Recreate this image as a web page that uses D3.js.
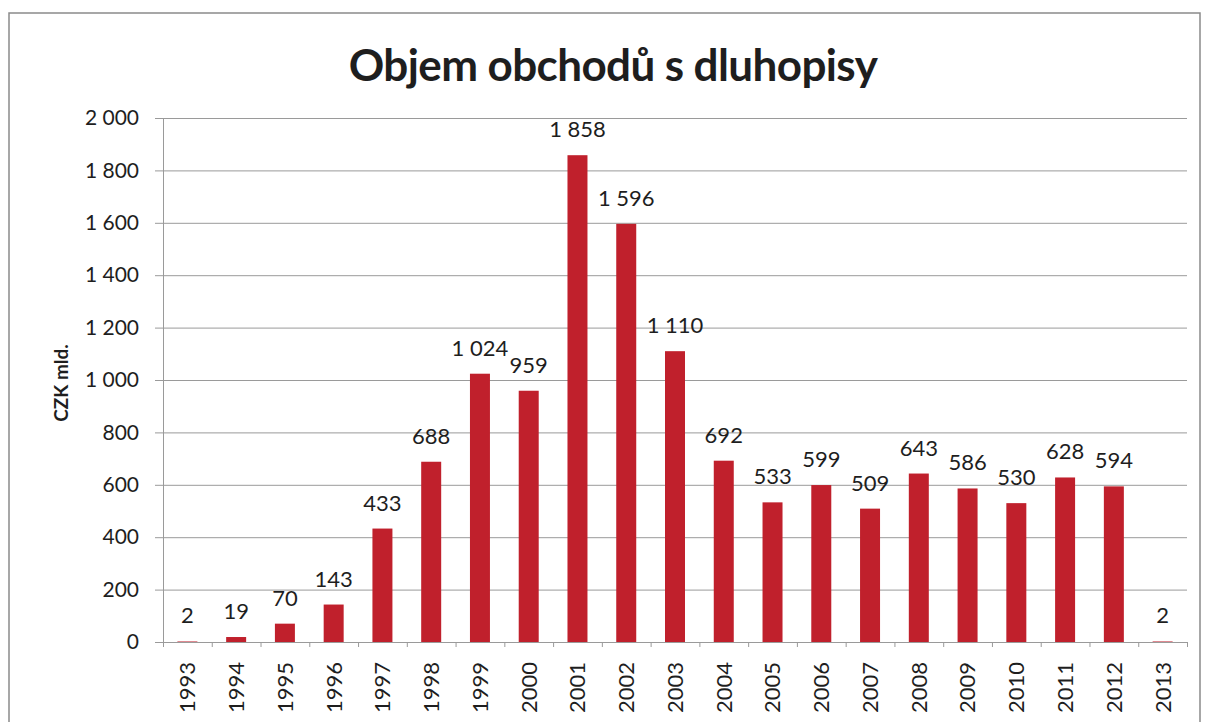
<!DOCTYPE html>
<html><head><meta charset="utf-8">
<script src="https://cdn.jsdelivr.net/npm/d3@7"></script>
<style>
html,body{margin:0;padding:0;background:#fff;}
svg{display:block;}
text{font-family:Lato,"Open Sans",sans-serif;fill:#1e1e1e;}
</style></head>
<body><svg id="chart" width="1205" height="722"></svg>
<script>
const title = "Objem obchodů s dluhopisy";
const yAxisTitle = "CZK mld.";
const years = ["1993","1994","1995","1996","1997","1998","1999","2000","2001","2002","2003","2004","2005","2006","2007","2008","2009","2010","2011","2012","2013"];
const values = [2,19,70,143,433,688,1024,959,1858,1596,1110,692,533,599,509,643,586,530,628,594,2];
const yTicks = [0,200,400,600,800,1000,1200,1400,1600,1800,2000];

(function(){
const svg = d3.select("#chart");
const mLeft = 163, mRight = 1187, mTop = 118, mBottom = 642;

const locale = d3.formatLocale({decimal:",", thousands:" ", grouping:[3], currency:["","Kč"]});
const fmt = locale.format(",d");

// page border
svg.append("rect").attr("x",9).attr("y",13).attr("width",1191).attr("height",730)
  .attr("fill","none").attr("stroke","#8a8a8a").attr("stroke-width",1.5);

const y = d3.scaleLinear().domain([0,2000]).range([mBottom, mTop]);
const x = d3.scaleBand().domain(years).range([mLeft, mRight]).padding(0);
const xb = d3.scaleBand().domain(years).range([mLeft, mRight]).paddingInner(0.59).paddingOuter(0.295);
const xi = d3.scaleLinear().domain([0, years.length]).range([mLeft, mRight]);

// gridlines
const grid = svg.append("g").attr("transform",`translate(${mLeft},0)`)
  .call(d3.axisLeft(y).tickValues(yTicks.filter(d=>d>0)).tickSize(-(mRight-mLeft)).tickFormat(""));
grid.select(".domain").remove();
grid.selectAll("line").attr("stroke","#9a9a9a").attr("stroke-width",1);

// y axis
const ya = svg.append("g").attr("transform",`translate(${mLeft},0)`)
  .call(d3.axisLeft(y).tickValues(yTicks).tickSize(8).tickPadding(16).tickFormat(fmt));
ya.select(".domain").attr("stroke","#9a9a9a");
ya.selectAll("line").attr("stroke","#9a9a9a");
ya.selectAll("text").attr("font-size",21).attr("fill","#1e1e1e").attr("font-family","Lato, sans-serif");

// bars
svg.append("g").selectAll("rect").data(values).join("rect")
  .attr("x",(d,i)=>xb(years[i])).attr("width",xb.bandwidth())
  .attr("y",d=>y(d)).attr("height",d=>mBottom-y(d))
  .attr("fill","#c0202c");

// x axis ticks at boundaries
const xa = svg.append("g").attr("transform",`translate(0,${mBottom})`)
  .call(d3.axisBottom(xi).tickValues(d3.range(years.length+1)).tickSize(5).tickFormat(""));
xa.select(".domain").attr("stroke","#9a9a9a");
xa.selectAll("line").attr("stroke","#9a9a9a");

// x labels
const xl = svg.append("g").attr("transform",`translate(0,${mBottom})`)
  .call(d3.axisBottom(x).tickSize(0).tickPadding(0));
xl.select(".domain").remove();
xl.selectAll("text")
  .attr("transform","rotate(-90)")
  .attr("text-anchor","end")
  .attr("dy","0.36em")
  .attr("x",-20).attr("y",0)
  .attr("font-size",22).attr("fill","#1e1e1e").attr("font-family","Lato, sans-serif");

// data labels
svg.append("g").selectAll("text").data(values).join("text")
  .attr("x",(d,i)=>x(years[i])+x.bandwidth()/2)
  .attr("y",d=>y(d)-18)
  .attr("text-anchor","middle")
  .attr("font-size",22)
  .text(d=>fmt(d));

// title
svg.append("text").attr("x",613).attr("y",81).attr("text-anchor","middle")
  .attr("font-size",44).attr("font-weight","bold").attr("letter-spacing","-0.6")
  .attr("fill","#262626").text(title);

// y axis title
svg.append("text").attr("transform","translate(68,383) rotate(-90)")
  .attr("text-anchor","middle").attr("font-size",19).attr("font-weight","bold").text(yAxisTitle);
})();
</script></body></html>
